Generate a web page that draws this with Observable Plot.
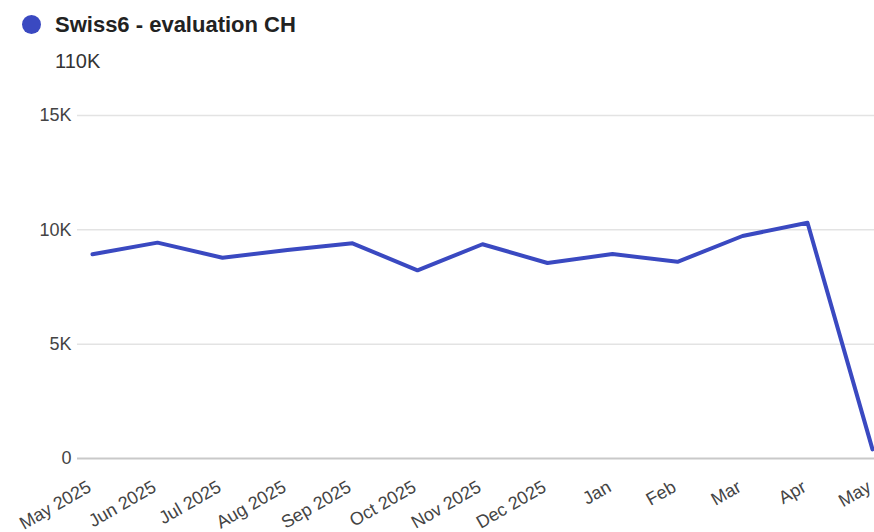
<!DOCTYPE html>
<html>
<head>
<meta charset="utf-8">
<script src="https://cdn.jsdelivr.net/npm/d3@7"></script>
<script src="https://cdn.jsdelivr.net/npm/@observablehq/plot@0.6"></script>
<style>
  html, body { margin: 0; padding: 0; background: #fff; }
  body { width: 874px; height: 532px; overflow: hidden; font-family: "Liberation Sans", Arial, sans-serif; }
  #header { position: relative; height: 85px; }
  #dot { position: absolute; left: 22px; top: 15px; width: 19px; height: 19px; border-radius: 50%; background: #3b4cc0; }
  #title { position: absolute; left: 55px; top: 14px; font-size: 22px; line-height: 22px; font-weight: bold; color: #222; white-space: nowrap; }
  #total { position: absolute; left: 55px; top: 51px; font-size: 20px; line-height: 20px; color: #333; white-space: nowrap; }
</style>
</head>
<body>
<div id="header">
  <div id="dot"></div>
  <div id="title"></div>
  <div id="total"></div>
</div>
<div id="chart"></div>
<script>
// Series name and headline total
const seriesName = "Swiss6 - evaluation CH";
const seriesTotal = "110K";

// Monthly values
const months = ["May 2025", "Jun 2025", "Jul 2025", "Aug 2025", "Sep 2025", "Oct 2025",
                "Nov 2025", "Dec 2025", "Jan", "Feb", "Mar", "Apr", "May"];
const values = [8930, 9440, 8780, 9120, 9410, 8230, 9370, 8550, 8940, 8600, 9730, 10310, 400];

// Y axis ticks
const yTicks = [0, 5000, 10000, 15000];
const yTickLabels = ["0", "5K", "10K", "15K"];

const lineColor = "#3a49c1";
document.getElementById("dot").style.background = lineColor;
document.getElementById("title").textContent = seriesName;
document.getElementById("total").textContent = seriesTotal;

const data = months.map((m, i) => ({month: m, value: values[i]}));

const chart = Plot.plot({
  width: 874,
  height: 447,
  marginTop: 30,
  marginBottom: 74,
  marginLeft: 77,
  marginRight: 0,
  style: {fontFamily: "Liberation Sans, Arial, sans-serif", fontSize: "18px", color: "#444", background: "#fff"},
  x: {type: "point", domain: months, padding: 0, insetLeft: 12},
  y: {domain: [0, 15000]},
  marks: [
    Plot.ruleY(yTicks.filter(d => d !== 0), {stroke: "#e3e3e3", strokeWidth: 1.5}),
    Plot.ruleY([0], {stroke: "#c9c9c9", strokeWidth: 2}),
    Plot.axisY({
      ticks: yTicks,
      tickFormat: d => yTickLabels[yTicks.indexOf(d)],
      tickSize: 0,
      tickPadding: 6,
      label: null,
      fontSize: 18,
      fill: "#444"
    }),
    Plot.axisX({
      tickRotate: -30,
      tickSize: 0,
      tickPadding: 27,
      dx: -3,
      label: null,
      fontSize: 18,
      fill: "#444"
    }),
    Plot.line(data, {x: "month", y: "value", stroke: lineColor, strokeWidth: 4, strokeLinejoin: "round", strokeLinecap: "round"})
  ]
});
document.getElementById("chart").appendChild(chart);
</script>
</body>
</html>
